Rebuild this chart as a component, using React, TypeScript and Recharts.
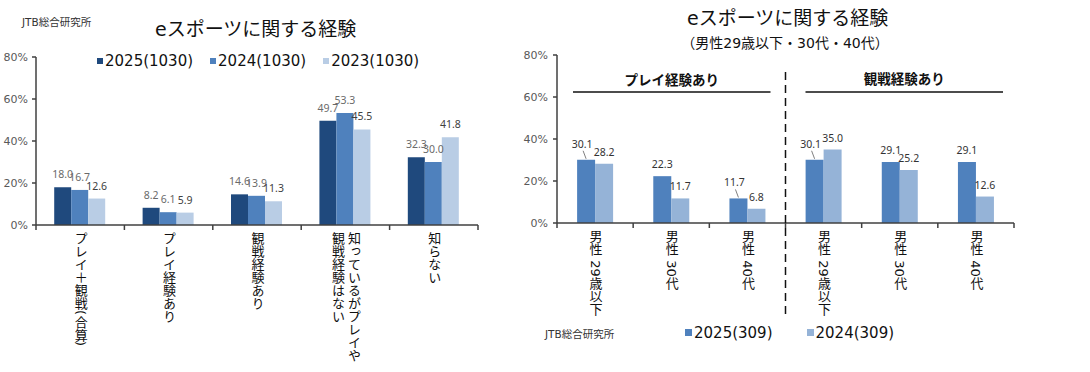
import React from 'react'
import { BarChart, Bar, XAxis, YAxis, LabelList } from 'recharts'

const FONT = '"DejaVu Sans", "Noto Sans CJK JP", sans-serif'
const NUM_FONT = '"Noto Sans", "Noto Sans CJK JP", sans-serif'

// left chart: eスポーツに関する経験 (all respondents)
const expCategories = [
  'プレイ＋観戦(合算)',
  'プレイ経験あり',
  '観戦経験あり',
  '知っているがプレイや\n観戦経験はない',
  '知らない',
]
const exp2025 = [18.0, 8.2, 14.6, 49.7, 32.3]
const exp2024 = [16.7, 6.1, 13.9, 53.3, 30.0]
const exp2023 = [12.6, 5.9, 11.3, 45.5, 41.8]
const expSeries = ['2025(1030)', '2024(1030)', '2023(1030)']

// right chart: male 29 and under / 30s / 40s
const maleCategories = ['男性 29歳以下', '男性 30代', '男性 40代', '男性 29歳以下', '男性 30代', '男性 40代']
const male2025 = [30.1, 22.3, 11.7, 30.1, 29.1, 29.1]
const male2024 = [28.2, 11.7, 6.8, 35.0, 25.2, 12.6]
const maleSeries = ['2025(309)', '2024(309)']
const groupLabels = ['プレイ経験あり', '観戦経験あり']

const yTicks = [0, 20, 40, 60, 80]

const leftData = expCategories.map((name, i) => ({
  key: `c${i}`, name, v2025: exp2025[i], v2024: exp2024[i], v2023: exp2023[i],
}))
const rightData = maleCategories.map((name, i) => ({
  key: `m${i}`, name, v2025: male2025[i], v2024: male2024[i],
}))

// layout
const L = { left: 0, w: 540, top: 57, right: 62, bottom: 27, yw: 36, xh: 120 }
const R = { left: 500, w: 590, top: 55, right: 76, bottom: 49, yw: 57, xh: 100 }
const lPlotW = L.w - L.right - L.yw
const rPlotW = R.w - R.right - R.yw
const lBand = lPlotW / expCategories.length
const rBand = rPlotW / maleCategories.length

const AXIS = '#404040'
const C = {
  navy: '#1F497D',
  mid: '#4F81BD',
  pale: '#B9CDE5',
  light: '#95B3D7',
}

// which 2025 labels in the right chart were pulled away with a leader line
const leaderIdx = [0, 2, 3]

function makeTick(labels: string[], band: number) {
  return (props: any) => {
    const { x, y, index } = props
    const cols = labels[index].split('\n')
    const gap = 16
    return (
      <g>
        <line x1={x - band / 2} x2={x - band / 2} y1={y} y2={y + 5} stroke={AXIS} strokeWidth={1.5} />
        {index === labels.length - 1 && (
          <line x1={x + band / 2} x2={x + band / 2} y1={y} y2={y + 5} stroke={AXIS} strokeWidth={1.5} />
        )}
        {cols.map((c, i) => (
          <text
            key={i}
            x={x + ((cols.length - 1) * gap) / 2 - i * gap}
            y={y + 7}
            fontSize={13}
            fill="#111"
            fontFamily={FONT}
            style={{ writingMode: 'vertical-rl' }}
          >
            {c}
          </text>
        ))}
      </g>
    )
  }
}

function leftLabel(color: string) {
  return (props: any) => {
    const { x, y, width, value } = props
    return (
      <text x={x + width / 2} y={y - 9} textAnchor="middle" fontSize={10.5} fill={color} fontFamily={NUM_FONT}>
        {Number(value).toFixed(1)}
      </text>
    )
  }
}

function rightLabel(leaders: number[]) {
  return (props: any) => {
    const { x, y, width, value, index } = props
    const cx = x + width / 2
    const txt = Number(value).toFixed(1)
    if (leaders.includes(index)) {
      return (
        <g>
          <line x1={cx - 3} y1={y - 9} x2={cx} y2={y - 1} stroke="#808080" strokeWidth={1} />
          <text x={cx - 4} y={y - 12} textAnchor="middle" fontSize={10.5} fill="#333" fontFamily={NUM_FONT}>
            {txt}
          </text>
        </g>
      )
    }
    return (
      <text x={cx} y={y - 8} textAnchor="middle" fontSize={10.5} fill="#333" fontFamily={NUM_FONT}>
        {txt}
      </text>
    )
  }
}

const Swatch = ({ color, size = 6 }: { color: string; size?: number }) => (
  <span style={{ display: 'inline-block', width: size, height: size, background: color, marginRight: 2, verticalAlign: 'middle', position: 'relative', top: -1 }} />
)

const yTickStyle = { fontSize: 11, fill: '#595959', fontFamily: FONT }

export default function App() {
  const rx0 = R.left + R.yw
  const sepX = rx0 + rBand * 3
  return (
    <div style={{ position: 'absolute', left: 0, top: 0, width: 1090, height: 372, background: '#fff', fontFamily: FONT, overflow: 'hidden' }}>
      {/* left chart */}
      <div style={{ position: 'absolute', left: L.left, top: 0 }}>
        <BarChart
          width={L.w}
          height={372}
          data={leftData}
          margin={{ top: L.top, right: L.right, bottom: L.bottom, left: 0 }}
          barCategoryGap="20.6%"
          barGap={0}
        >
          <YAxis
            width={L.yw}
            domain={[0, 80]}
            ticks={yTicks}
            tickFormatter={(v: number) => `${v}%`}
            tick={yTickStyle}
            tickSize={4}
            tickMargin={4}
            axisLine={{ stroke: AXIS, strokeWidth: 1.5 }}
            tickLine={{ stroke: AXIS, strokeWidth: 1.5 }}
            interval={0}
          />
          <XAxis
            dataKey="key"
            height={L.xh}
            tick={makeTick(expCategories, lBand)}
            tickLine={false}
            tickSize={0}
            tickMargin={0}
            interval={0}
            axisLine={{ stroke: AXIS, strokeWidth: 1.5 }}
          />
          <Bar dataKey="v2025" fill={C.navy} isAnimationActive={false}>
            <LabelList dataKey="v2025" content={leftLabel('#6a6a6a')} />
          </Bar>
          <Bar dataKey="v2024" fill={C.mid} isAnimationActive={false}>
            <LabelList dataKey="v2024" content={leftLabel('#6a6a6a')} />
          </Bar>
          <Bar dataKey="v2023" fill={C.pale} isAnimationActive={false}>
            <LabelList dataKey="v2023" content={leftLabel('#404040')} />
          </Bar>
        </BarChart>
      </div>

      <div style={{ position: 'absolute', left: 22, top: 14, fontSize: 10.5, color: '#333' }}>JTB総合研究所</div>
      <div style={{ position: 'absolute', left: 155, top: 14, width: 200, textAlign: 'center', fontSize: 19, color: '#111', whiteSpace: 'nowrap' }}>
        eスポーツに関する経験
      </div>
      <div style={{ position: 'absolute', left: 97, top: 52, fontSize: 15, color: '#111', whiteSpace: 'nowrap', display: 'flex', gap: 17 }}>
        <span><Swatch color={C.navy} />{expSeries[0]}</span>
        <span><Swatch color={C.mid} />{expSeries[1]}</span>
        <span><Swatch color={C.pale} />{expSeries[2]}</span>
      </div>

      {/* right chart */}
      <div style={{ position: 'absolute', left: R.left, top: 0 }}>
        <BarChart
          width={R.w}
          height={372}
          data={rightData}
          margin={{ top: R.top, right: R.right, bottom: R.bottom, left: 0 }}
          barCategoryGap="26.4%"
          barGap={0}
        >
          <YAxis
            width={R.yw}
            domain={[0, 80]}
            ticks={yTicks}
            tickFormatter={(v: number) => `${v}%`}
            tick={yTickStyle}
            tickSize={4}
            tickMargin={5}
            axisLine={{ stroke: AXIS, strokeWidth: 1.5 }}
            tickLine={{ stroke: AXIS, strokeWidth: 1.5 }}
            interval={0}
          />
          <XAxis
            dataKey="key"
            height={R.xh}
            tick={makeTick(maleCategories, rBand)}
            tickLine={false}
            tickSize={0}
            tickMargin={0}
            interval={0}
            axisLine={{ stroke: AXIS, strokeWidth: 1.5 }}
          />
          <Bar dataKey="v2025" fill={C.mid} isAnimationActive={false}>
            <LabelList dataKey="v2025" content={rightLabel(leaderIdx)} />
          </Bar>
          <Bar dataKey="v2024" fill={C.light} isAnimationActive={false}>
            <LabelList dataKey="v2024" content={rightLabel([])} />
          </Bar>
        </BarChart>
      </div>

      {/* group headers and separator */}
      <svg style={{ position: 'absolute', left: 0, top: 0 }} width={1090} height={372}>
        <line x1={sepX} x2={sepX} y1={72} y2={316} stroke="#111" strokeWidth={1.5} strokeDasharray="8 5" />
        <line x1={rx0 + 16} x2={sepX - 15} y1={92} y2={92} stroke="#111" strokeWidth={1.5} />
        <line x1={sepX + 20} x2={rx0 + rPlotW - 11} y1={92} y2={92} stroke="#111" strokeWidth={1.5} />
        <text x={(rx0 + 16 + sepX - 15) / 2} y={85} textAnchor="middle" fontSize={13.5} fontWeight="bold" fill="#111" fontFamily={FONT}>
          {groupLabels[0]}
        </text>
        <text x={(sepX + 20 + rx0 + rPlotW - 11) / 2} y={84} textAnchor="middle" fontSize={13.5} fontWeight="bold" fill="#111" fontFamily={FONT}>
          {groupLabels[1]}
        </text>
      </svg>

      <div style={{ position: 'absolute', left: 687, top: 3, width: 200, textAlign: 'center', fontSize: 19, color: '#111', whiteSpace: 'nowrap' }}>
        eスポーツに関する経験
      </div>
      <div style={{ position: 'absolute', left: 665, top: 32, width: 240, textAlign: 'center', fontSize: 14, color: '#111', whiteSpace: 'nowrap' }}>
        （男性29歳以下・30代・40代）
      </div>
      <div style={{ position: 'absolute', left: 545, top: 326, fontSize: 10.5, color: '#333' }}>JTB総合研究所</div>
      <div style={{ position: 'absolute', left: 685, top: 324, fontSize: 15, color: '#111', whiteSpace: 'nowrap', display: 'flex', gap: 34 }}>
        <span><Swatch color={C.mid} size={7} />{maleSeries[0]}</span>
        <span><Swatch color={C.light} size={7} />{maleSeries[1]}</span>
      </div>
    </div>
  )
}
